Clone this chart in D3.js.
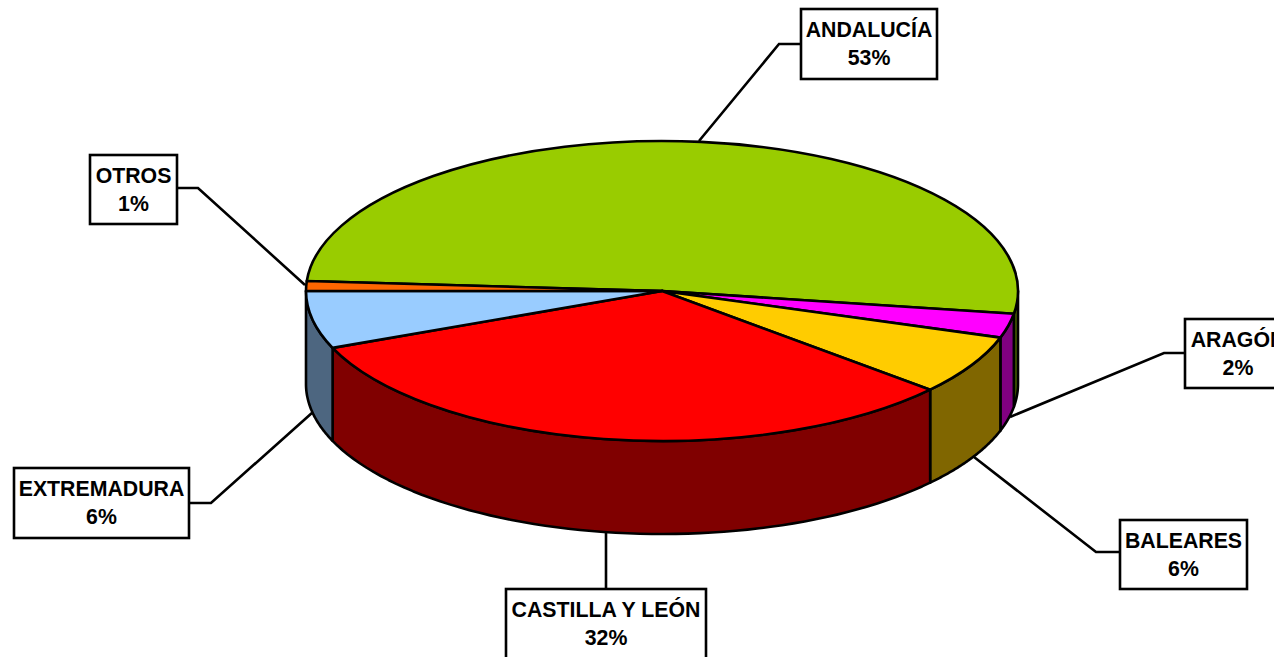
<!DOCTYPE html>
<html><head><meta charset="utf-8">
<style>html,body{margin:0;padding:0;background:#fff;overflow:hidden}svg{display:block}</style>
<script src="https://cdn.jsdelivr.net/npm/d3@7"></script></head>
<body><div id="chart"></div>
<script>
const categories = ["ANDALUCÍA","ARAGÓN","BALEARES","CASTILLA Y LEÓN","EXTREMADURA","OTROS"];
const shares = [51.4,2.6,6.4,32.4,6.2,1.05];
const percentLabels = ["53%","2%","6%","32%","6%","1%"];
const topColors = ["#99cc00","#ff00ff","#ffcc00","#ff0000","#99ccff","#ff6600"];
const sideColors = ["#4d6600","#800080","#806600","#800000","#4d6680","#803300"];

const W=1274,H=657,cx=662,cy=291,rx=356,ry=150,depth=93,sw=2.6;
const rad=d=>d*Math.PI/180;
const layout=[
 {box:[801,9,136,70],leader:[[699,141],[779,44],[801,44]]},
 {box:[1185,319,106,69],leader:[[1010,417],[1164,353],[1185,353]]},
 {box:[1120,520,127,69],leader:[[974,457],[1096,552],[1120,552]]},
 {box:[506,589,200,70],leader:[[606,533],[606,589]]},
 {box:[14,468,175,70],leader:[[313,412],[211,503],[189,503]]},
 {box:[90,155,87,69],leader:[[305,285],[198,188],[177,188]]}
];
const svg=d3.select("#chart").append("svg").attr("width",W).attr("height",H);
const pie=d3.pie().sort(null).startAngle(rad(-86.2)).endAngle(rad(273.8));
const arcs=pie(shares);
const px=a=>cx+rx*Math.sin(a), py=a=>cy-ry*Math.cos(a);

const line=d3.line();
svg.append("g").selectAll("path").data(layout).join("path")
  .attr("d",d=>line(d.leader)).attr("fill","none").attr("stroke","#000").attr("stroke-width",sw);

function wall(a0,a1){
  const p=d3.path();
  const lo=Math.max(a0,rad(90)),hi=Math.min(a1,rad(270));
  if(hi<=lo) return "";
  p.moveTo(px(lo),py(lo));
  const n=60;
  for(let i=1;i<=n;i++){const a=lo+(hi-lo)*i/n;p.lineTo(px(a),py(a));}
  for(let i=n;i>=0;i--){const a=lo+(hi-lo)*i/n;p.lineTo(px(a),py(a)+depth);}
  p.closePath();
  return p.toString();
}
svg.append("g").selectAll("path").data(arcs).join("path")
  .attr("d",d=>wall(d.startAngle,d.endAngle))
  .attr("fill",(d,i)=>sideColors[i]).attr("stroke","#000").attr("stroke-width",sw).attr("stroke-linejoin","round");

const arc=d3.arc().innerRadius(0).outerRadius(rx);
svg.append("g").attr("transform",`translate(${cx},${cy}) scale(1,${ry/rx})`)
  .selectAll("path").data(arcs).join("path")
  .attr("d",arc).attr("fill",(d,i)=>topColors[i])
  .attr("stroke","#000").attr("stroke-width",sw).attr("stroke-linejoin","round")
  .attr("vector-effect","non-scaling-stroke");

const g=svg.append("g").selectAll("g").data(categories).join("g");
g.append("rect").attr("x",(d,i)=>layout[i].box[0]).attr("y",(d,i)=>layout[i].box[1])
  .attr("width",(d,i)=>layout[i].box[2]).attr("height",(d,i)=>layout[i].box[3])
  .attr("fill","#fff").attr("stroke","#000").attr("stroke-width",sw);
const font="'Liberation Sans',Arial,sans-serif";
g.append("text").text(d=>d).attr("x",(d,i)=>layout[i].box[0]+layout[i].box[2]/2)
  .attr("y",(d,i)=>layout[i].box[1]+27.5)
  .attr("text-anchor","middle").attr("font-family",font).attr("font-weight",700).attr("font-size",21.3);
g.append("text").text((d,i)=>percentLabels[i]).attr("x",(d,i)=>layout[i].box[0]+layout[i].box[2]/2)
  .attr("y",(d,i)=>layout[i].box[1]+56)
  .attr("text-anchor","middle").attr("font-family",font).attr("font-weight",700).attr("font-size",21.3);
</script></body></html>
